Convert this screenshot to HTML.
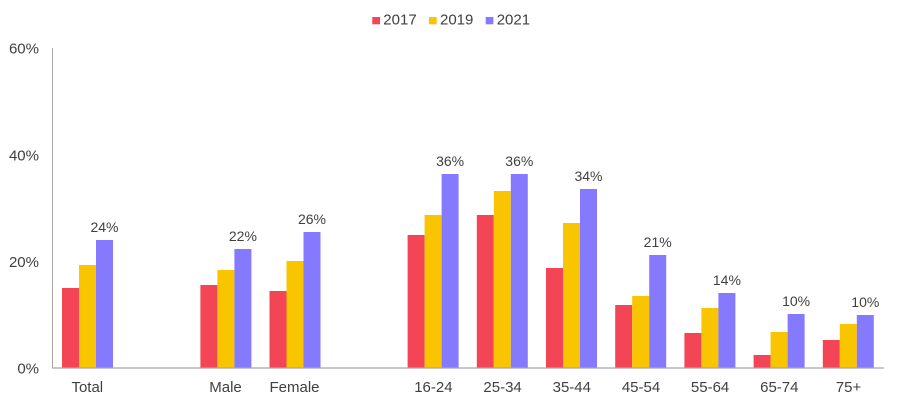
<!DOCTYPE html>
<html><head><meta charset="utf-8"><style>
html,body{margin:0;padding:0;background:#fff;}
svg{display:block;}
text{font-family:"Liberation Sans",Arial,sans-serif;fill:#404040;}
</style></head><body>
<svg width="898" height="403" viewBox="0 0 898 403" xmlns="http://www.w3.org/2000/svg">
<!-- legend -->
<rect x="372.3" y="17" width="7.7" height="7.3" fill="#F44556"/>
<text x="383.3" y="24.3" font-size="15">2017</text>
<rect x="429" y="17" width="7.7" height="7.3" fill="#F9C400"/>
<text x="440" y="24.3" font-size="15">2019</text>
<rect x="485.7" y="17" width="7.7" height="7.3" fill="#8579FE"/>
<text x="496.7" y="24.3" font-size="15">2021</text>
<!-- y tick labels -->
<g font-size="15" text-anchor="end">
<text x="39" y="53.3">60%</text>
<text x="39" y="160.5">40%</text>
<text x="39" y="267">20%</text>
<text x="39" y="373.5">0%</text>
</g>
<!-- bars -->
<g>
<!-- Total c=87.5 -->
<rect x="62" y="288" width="17" height="80" fill="#F44556"/>
<rect x="79" y="265" width="17" height="103" fill="#F9C400"/>
<rect x="96" y="240" width="17" height="128" fill="#8579FE"/>
<!-- Male c=225.9 -->
<rect x="200.4" y="285" width="17" height="83" fill="#F44556"/>
<rect x="217.4" y="270" width="17" height="98" fill="#F9C400"/>
<rect x="234.4" y="249" width="17" height="119" fill="#8579FE"/>
<!-- Female c=295 -->
<rect x="269.5" y="291" width="17" height="77" fill="#F44556"/>
<rect x="286.5" y="261" width="17" height="107" fill="#F9C400"/>
<rect x="303.5" y="232" width="17" height="136" fill="#8579FE"/>
<!-- 16-24 c=433.4 -->
<rect x="407.6" y="235" width="17" height="133" fill="#F44556"/>
<rect x="424.6" y="215" width="17" height="153" fill="#F9C400"/>
<rect x="441.6" y="174" width="17" height="194" fill="#8579FE"/>
<!-- 25-34 c=502.6 -->
<rect x="476.8" y="215" width="17" height="153" fill="#F44556"/>
<rect x="493.8" y="191" width="17" height="177" fill="#F9C400"/>
<rect x="510.8" y="174" width="17" height="194" fill="#8579FE"/>
<!-- 35-44 c=571.8 -->
<rect x="546" y="268" width="17" height="100" fill="#F44556"/>
<rect x="563" y="223" width="17" height="145" fill="#F9C400"/>
<rect x="580" y="189" width="17" height="179" fill="#8579FE"/>
<!-- 45-54 c=641 -->
<rect x="615.2" y="305" width="17" height="63" fill="#F44556"/>
<rect x="632.2" y="296" width="17" height="72" fill="#F9C400"/>
<rect x="649.2" y="255" width="17" height="113" fill="#8579FE"/>
<!-- 55-64 c=710.1 -->
<rect x="684.4" y="333" width="17" height="35" fill="#F44556"/>
<rect x="701.4" y="308" width="17" height="60" fill="#F9C400"/>
<rect x="718.4" y="293" width="17" height="75" fill="#8579FE"/>
<!-- 65-74 c=779.3 -->
<rect x="753.6" y="355" width="17" height="13" fill="#F44556"/>
<rect x="770.6" y="332" width="17" height="36" fill="#F9C400"/>
<rect x="787.6" y="314" width="17" height="54" fill="#8579FE"/>
<!-- 75+ c=848.5 -->
<rect x="822.8" y="340" width="17" height="28" fill="#F44556"/>
<rect x="839.8" y="324" width="17" height="44" fill="#F9C400"/>
<rect x="856.8" y="315" width="17" height="53" fill="#8579FE"/>
</g>
<!-- axes -->
<line x1="52.5" y1="48" x2="52.5" y2="368.5" stroke="#A6A6A6" stroke-width="1"/>
<line x1="52" y1="368" x2="884" y2="368" stroke="#A6A6A6" stroke-width="1.3"/>
<!-- data labels -->
<g font-size="14" text-anchor="middle">
<text x="104.5" y="232">24%</text>
<text x="242.9" y="241">22%</text>
<text x="312" y="224">26%</text>
<text x="450.1" y="166">36%</text>
<text x="519.3" y="166">36%</text>
<text x="588.5" y="181">34%</text>
<text x="657.7" y="247">21%</text>
<text x="726.9" y="285">14%</text>
<text x="796.1" y="306">10%</text>
<text x="865.3" y="307">10%</text>
</g>
<!-- category labels -->
<g font-size="15" text-anchor="middle">
<text x="87.3" y="392">Total</text>
<text x="225.5" y="392">Male</text>
<text x="294.5" y="392">Female</text>
<text x="433.4" y="392">16-24</text>
<text x="502.6" y="392">25-34</text>
<text x="571.8" y="392">35-44</text>
<text x="641" y="392">45-54</text>
<text x="710.1" y="392">55-64</text>
<text x="779.3" y="392">65-74</text>
<text x="848.5" y="392">75+</text>
</g>
</svg>
</body></html>
